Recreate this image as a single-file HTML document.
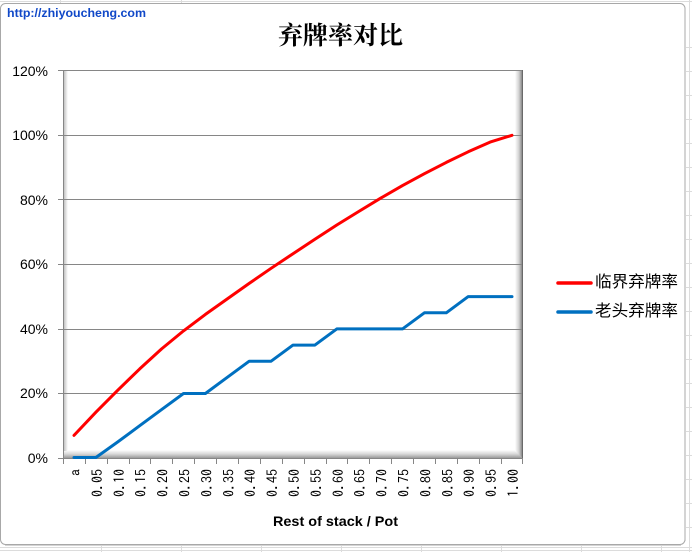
<!DOCTYPE html>
<html>
<head>
<meta charset="utf-8">
<style>
  html, body { margin:0; padding:0; background:#ffffff; }
  body { width:692px; height:552px; overflow:hidden; }
  svg { display:block; }
</style>
</head>
<body>
<svg width="692" height="552" viewBox="0 0 692 552" xmlns="http://www.w3.org/2000/svg">
  <defs>
    <linearGradient id="gR" x1="0" y1="0" x2="1" y2="0">
      <stop offset="0" stop-color="#ffffff"/>
      <stop offset="0.5" stop-color="#d0d0d0"/>
      <stop offset="1" stop-color="#707070"/>
    </linearGradient>
    <linearGradient id="gB" x1="0" y1="0" x2="0" y2="1">
      <stop offset="0" stop-color="#ffffff"/>
      <stop offset="0.5" stop-color="#d8d8d8"/>
      <stop offset="1" stop-color="#9a9a9a"/>
    </linearGradient>
    <linearGradient id="gL" x1="0" y1="0" x2="1" y2="0">
      <stop offset="0" stop-color="#c4c4c4"/>
      <stop offset="1" stop-color="#ffffff"/>
    </linearGradient>
  </defs>

  <!-- spreadsheet background grid -->
  <g stroke="#dcdcdc" stroke-width="1">
    <line x1="0" y1="547.5" x2="692" y2="547.5"/>
    <line x1="0" y1="550.5" x2="692" y2="550.5"/>
    <line x1="101.5" y1="546" x2="101.5" y2="552"/>
    <line x1="181.5" y1="546" x2="181.5" y2="552"/>
    <line x1="261.5" y1="546" x2="261.5" y2="552"/>
    <line x1="341.5" y1="546" x2="341.5" y2="552"/>
    <line x1="421.5" y1="546" x2="421.5" y2="552"/>
    <line x1="501.5" y1="546" x2="501.5" y2="552"/>
    <line x1="581.5" y1="546" x2="581.5" y2="552"/>
    <line x1="661.5" y1="546" x2="661.5" y2="552"/>
    <line x1="0" y1="1.5" x2="692" y2="1.5"/>
    <line x1="60.5" y1="0" x2="60.5" y2="3"/>
    <line x1="181.5" y1="0" x2="181.5" y2="3"/>
    <line x1="689.5" y1="0" x2="689.5" y2="552"/>
    <line x1="686" y1="47.5" x2="692" y2="47.5"/>
    <line x1="686" y1="71.5" x2="692" y2="71.5"/>
    <line x1="686" y1="95.5" x2="692" y2="95.5"/>
    <line x1="686" y1="119.5" x2="692" y2="119.5"/>
    <line x1="686" y1="143.5" x2="692" y2="143.5"/>
    <line x1="686" y1="167.5" x2="692" y2="167.5"/>
    <line x1="686" y1="191.5" x2="692" y2="191.5"/>
    <line x1="686" y1="215.5" x2="692" y2="215.5"/>
    <line x1="686" y1="239.5" x2="692" y2="239.5"/>
    <line x1="686" y1="263.5" x2="692" y2="263.5"/>
    <line x1="686" y1="287.5" x2="692" y2="287.5"/>
    <line x1="686" y1="311.5" x2="692" y2="311.5"/>
    <line x1="686" y1="335.5" x2="692" y2="335.5"/>
    <line x1="686" y1="359.5" x2="692" y2="359.5"/>
    <line x1="686" y1="383.5" x2="692" y2="383.5"/>
    <line x1="686" y1="407.5" x2="692" y2="407.5"/>
    <line x1="686" y1="431.5" x2="692" y2="431.5"/>
    <line x1="686" y1="455.5" x2="692" y2="455.5"/>
    <line x1="686" y1="479.5" x2="692" y2="479.5"/>
    <line x1="686" y1="503.5" x2="692" y2="503.5"/>
    <line x1="686" y1="527.5" x2="692" y2="527.5"/>
  </g>

  <!-- chart border -->
  <rect x="0.5" y="3.5" width="684.5" height="541" rx="5" ry="5" fill="#ffffff" stroke="#a8a8a8" stroke-width="1"/>
  <line x1="685.5" y1="8" x2="685.5" y2="541" stroke="#d4d4d4" stroke-width="1"/>
  <line x1="5" y1="545.5" x2="681" y2="545.5" stroke="#d4d4d4" stroke-width="1"/>

  <!-- watermark -->
  <text x="7" y="17" font-family="'Liberation Sans', sans-serif" font-weight="bold" font-size="12" fill="#1048c8" textLength="139" lengthAdjust="spacingAndGlyphs">http://zhiyoucheng.com</text>

  <!-- title -->
  <text x="340.5" y="44" text-anchor="middle" font-family="'Liberation Serif', 'Noto Serif CJK SC', serif" font-weight="bold" font-size="25" fill="#000000">弃牌率对比</text>

  <!-- plot area shadows -->
  <polygon points="64,458 64,450 70,450 516,450 523,458" fill="url(#gB)"/>
  <polygon points="515,71 523,71 523,458 515,451" fill="url(#gR)"/>
  <rect x="64" y="71" width="4" height="380" fill="url(#gL)"/>

  <!-- gridlines (with left tick extension) -->
  <g stroke="#868686" stroke-width="1">
    <line x1="58" y1="70.5" x2="523" y2="70.5"/>
    <line x1="58" y1="135.5" x2="523" y2="135.5"/>
    <line x1="58" y1="199.5" x2="523" y2="199.5"/>
    <line x1="58" y1="264.5" x2="523" y2="264.5"/>
    <line x1="58" y1="329.5" x2="523" y2="329.5"/>
    <line x1="58" y1="393.5" x2="523" y2="393.5"/>
    <line x1="58" y1="458.5" x2="523" y2="458.5"/>
    <line x1="63.5" y1="70" x2="63.5" y2="459"/>
    <line x1="522.5" y1="70" x2="522.5" y2="459" stroke="#6a6a6a"/>
  </g>

  <!-- x ticks -->
  <g stroke="#868686" stroke-width="1">
    <line x1="63.5" y1="458" x2="63.5" y2="464"/>
    <line x1="85.5" y1="458" x2="85.5" y2="464"/>
    <line x1="107.5" y1="458" x2="107.5" y2="464"/>
    <line x1="129.5" y1="458" x2="129.5" y2="464"/>
    <line x1="150.5" y1="458" x2="150.5" y2="464"/>
    <line x1="172.5" y1="458" x2="172.5" y2="464"/>
    <line x1="194.5" y1="458" x2="194.5" y2="464"/>
    <line x1="216.5" y1="458" x2="216.5" y2="464"/>
    <line x1="238.5" y1="458" x2="238.5" y2="464"/>
    <line x1="260.5" y1="458" x2="260.5" y2="464"/>
    <line x1="282.5" y1="458" x2="282.5" y2="464"/>
    <line x1="304.5" y1="458" x2="304.5" y2="464"/>
    <line x1="326.5" y1="458" x2="326.5" y2="464"/>
    <line x1="347.5" y1="458" x2="347.5" y2="464"/>
    <line x1="369.5" y1="458" x2="369.5" y2="464"/>
    <line x1="391.5" y1="458" x2="391.5" y2="464"/>
    <line x1="413.5" y1="458" x2="413.5" y2="464"/>
    <line x1="435.5" y1="458" x2="435.5" y2="464"/>
    <line x1="457.5" y1="458" x2="457.5" y2="464"/>
    <line x1="479.5" y1="458" x2="479.5" y2="464"/>
    <line x1="501.5" y1="458" x2="501.5" y2="464"/>
    <line x1="522.5" y1="458" x2="522.5" y2="464"/>
  </g>

  <!-- y labels -->
  <g font-family="'Liberation Sans', sans-serif" font-size="14" fill="#000000" text-anchor="end">
    <text x="48" y="76">120%</text>
    <text x="48" y="140">100%</text>
    <text x="48" y="205">80%</text>
    <text x="48" y="269">60%</text>
    <text x="48" y="334">40%</text>
    <text x="48" y="398">20%</text>
    <text x="48" y="463">0%</text>
  </g>

  <!-- x labels -->
  <g font-family="'IPAGothic', 'Liberation Mono', monospace" font-size="14" fill="#000000" text-anchor="end">
    <text transform="translate(79.5,469) rotate(-90)">a</text>
    <text transform="translate(101.9,469) rotate(-90)">0.05</text>
    <text transform="translate(123.8,469) rotate(-90)">0.10</text>
    <text transform="translate(145.7,469) rotate(-90)">0.15</text>
    <text transform="translate(167.6,469) rotate(-90)">0.20</text>
    <text transform="translate(189.5,469) rotate(-90)">0.25</text>
    <text transform="translate(211.4,469) rotate(-90)">0.30</text>
    <text transform="translate(233.3,469) rotate(-90)">0.35</text>
    <text transform="translate(255.2,469) rotate(-90)">0.40</text>
    <text transform="translate(277.1,469) rotate(-90)">0.45</text>
    <text transform="translate(299.0,469) rotate(-90)">0.50</text>
    <text transform="translate(320.9,469) rotate(-90)">0.55</text>
    <text transform="translate(342.8,469) rotate(-90)">0.60</text>
    <text transform="translate(364.7,469) rotate(-90)">0.65</text>
    <text transform="translate(386.6,469) rotate(-90)">0.70</text>
    <text transform="translate(408.5,469) rotate(-90)">0.75</text>
    <text transform="translate(430.4,469) rotate(-90)">0.80</text>
    <text transform="translate(452.3,469) rotate(-90)">0.85</text>
    <text transform="translate(474.2,469) rotate(-90)">0.90</text>
    <text transform="translate(496.1,469) rotate(-90)">0.95</text>
    <text transform="translate(518.0,469) rotate(-90)">1.00</text>
  </g>

  <!-- x axis title -->
  <text x="273" y="526" font-family="'Liberation Sans', sans-serif" font-weight="bold" font-size="14" fill="#000000" textLength="125" lengthAdjust="spacingAndGlyphs">Rest of stack / Pot</text>

  <!-- series: 老头弃牌率 (blue) -->
  <polyline fill="none" stroke="#0070c0" stroke-width="3" stroke-linejoin="round" stroke-linecap="round"
    points="74,457.5 95.9,457.5 117.8,441.9 139.7,425.7 161.6,409.6 183.5,393.5 205.4,393.5 227.3,377.3 249.2,361.2 271.1,361.2 293,345.1 314.9,345.1 336.8,328.9 358.7,328.9 380.6,328.9 402.5,328.9 424.4,312.8 446.3,312.8 468.2,296.6 490.1,296.6 512,296.6"/>

  <!-- series: 临界弃牌率 (red) -->
  <polyline fill="none" stroke="#ff0000" stroke-width="3" stroke-linejoin="round" stroke-linecap="round"
    points="74,435.4 95.9,412.2 117.8,390.2 139.7,368.9 161.6,348.9 183.5,330.9 205.4,314.4 227.3,298.9 249.2,283.4 271.1,268.3 293,253.7 314.9,239.2 336.8,225.0 358.7,211.5 380.6,198.2 402.5,185.6 424.4,173.7 446.3,162.4 468.2,151.8 490.1,142.1 512,135.3"/>

  <!-- legend -->
  <line x1="558" y1="283" x2="591" y2="283" stroke="#ff0000" stroke-width="3.5" stroke-linecap="round"/>
  <line x1="558" y1="312" x2="591" y2="312" stroke="#0070c0" stroke-width="3.5" stroke-linecap="round"/>
  <g font-family="'Liberation Sans', 'Noto Sans CJK SC', sans-serif" font-size="16" fill="#000000">
    <text x="595" y="287" textLength="83" lengthAdjust="spacingAndGlyphs">临界弃牌率</text>
    <text x="595" y="316" textLength="83" lengthAdjust="spacingAndGlyphs">老头弃牌率</text>
  </g>
</svg>
</body>
</html>
